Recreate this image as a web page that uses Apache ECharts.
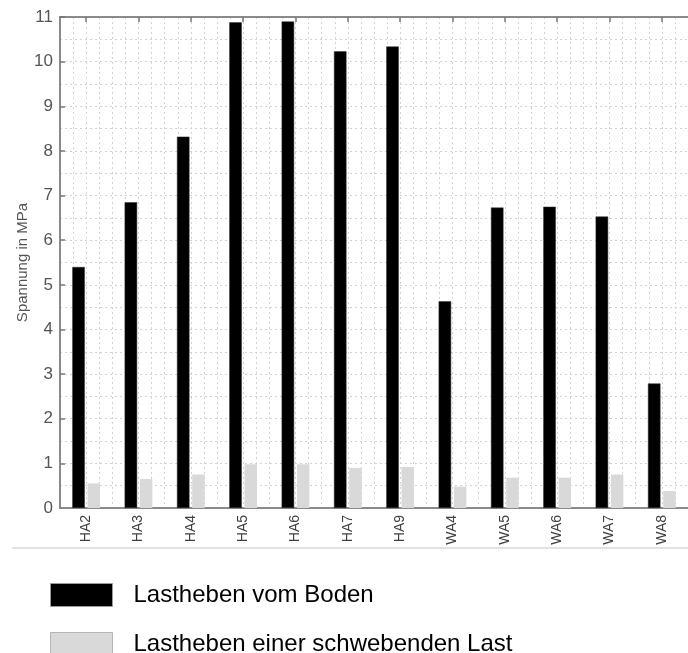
<!DOCTYPE html>
<html>
<head>
<meta charset="utf-8">
<script src="https://cdn.jsdelivr.net/npm/echarts@6/dist/echarts.min.js"></script>
<style>
  html, body { margin: 0; padding: 0; background: #fff; }
  #chart { width: 688px; height: 653px; }
</style>
</head>
<body>
<div id="chart"></div>
<script>
// Lastfälle (Messpunkte)
const categories = ['HA2', 'HA3', 'HA4', 'HA5', 'HA6', 'HA7', 'HA9', 'WA4', 'WA5', 'WA6', 'WA7', 'WA8'];

// Spannung in MPa
const vomBoden = [5.40, 6.85, 8.32, 10.88, 10.90, 10.23, 10.34, 4.63, 6.73, 6.75, 6.53, 2.79];
const schwebend = [0.55, 0.65, 0.75, 0.98, 0.98, 0.90, 0.92, 0.48, 0.68, 0.68, 0.75, 0.38];

const seriesNames = ['Lastheben vom Boden', 'Lastheben einer schwebenden Last'];

const FONT = '"Liberation Sans", Arial, sans-serif';
const axisGray = '#8a8a8a';
const gridLine = { show: true, lineStyle: { color: '#d2d2d2', width: 1, type: [2, 3] } };

function legendRow(name, top, border) {
  return {
    orient: 'vertical',
    left: 50,
    top: top,
    padding: 0,
    itemWidth: 62,
    itemHeight: 23,
    icon: 'rect',
    textStyle: { fontSize: 24, color: '#000', fontFamily: FONT, padding: [0, 0, 0, 16] },
    data: [{ name: name, itemStyle: { borderColor: border, borderWidth: 1 } }]
  };
}

const chart = echarts.init(document.getElementById('chart'), null, { renderer: 'canvas' });

chart.setOption({
  animation: false,
  backgroundColor: '#ffffff',
  textStyle: { fontFamily: FONT },
  grid: { left: 60, top: 17, width: 637, height: 491, containLabel: false },
  xAxis: [
    {
      type: 'category',
      position: 'bottom',
      data: categories,
      axisLine: { show: true, lineStyle: { color: axisGray, width: 2 } },
      axisTick: { show: false },
      axisLabel: { rotate: 90, fontSize: 14, color: '#404040', margin: 7, fontFamily: FONT },
      splitLine: { show: false },
      z: 1
    },
    {
      type: 'category',
      position: 'top',
      data: categories,
      axisLine: { show: true, lineStyle: { color: axisGray, width: 2 } },
      axisTick: { show: true, inside: true, alignWithLabel: true, length: 5, lineStyle: { color: '#777', width: 1.5 } },
      axisLabel: { show: false },
      splitLine: { show: false }
    },
    {
      // quarter-category grid
      type: 'value',
      min: 0,
      max: 48,
      interval: 1,
      position: 'bottom',
      axisLine: { show: false },
      axisTick: { show: false },
      axisLabel: { show: false },
      splitLine: gridLine
    }
  ],
  yAxis: [
    {
      type: 'value',
      min: 0,
      max: 11,
      interval: 1,
      name: 'Spannung in MPa',
      nameLocation: 'middle',
      nameRotate: 90,
      nameGap: 30,
      nameMoveOverlap: false,
      nameTextStyle: { fontSize: 15, color: '#555', fontFamily: FONT },
      axisLine: { show: true, lineStyle: { color: axisGray, width: 2 } },
      axisTick: { show: true, inside: true, length: 5, lineStyle: { color: '#777', width: 1.5 } },
      axisLabel: { fontSize: 17, color: '#555', margin: 7, fontFamily: FONT },
      splitLine: gridLine,
      minorTick: { show: false, splitNumber: 2 },
      minorSplitLine: gridLine
    }
  ],
  legend: [
    legendRow(seriesNames[0], 583, '#9a9a9a'),
    legendRow(seriesNames[1], 632, '#b5b5b5')
  ],
  graphic: [
    {
      type: 'line',
      shape: { x1: 12, y1: 548, x2: 688, y2: 548 },
      style: { stroke: '#c4c4c4', lineWidth: 1 },
      silent: true
    }
  ],
  series: [
    {
      name: seriesNames[0],
      type: 'bar',
      xAxisIndex: 0,
      yAxisIndex: 0,
      data: vomBoden,
      barWidth: 12.5,
      barGap: '22%',
      itemStyle: { color: '#000000', borderColor: '#333', borderWidth: 0.5 },
      z: 3
    },
    {
      name: seriesNames[1],
      type: 'bar',
      xAxisIndex: 0,
      yAxisIndex: 0,
      data: schwebend,
      barWidth: 12.5,
      barGap: '22%',
      itemStyle: { color: '#d9d9d9' },
      z: 3
    }
  ]
});
</script>
</body>
</html>
